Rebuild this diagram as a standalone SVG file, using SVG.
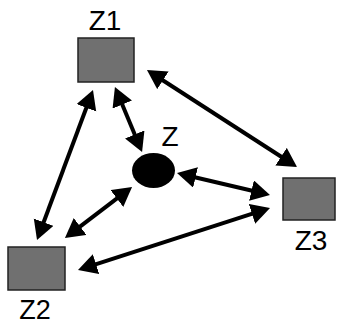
<svg xmlns="http://www.w3.org/2000/svg" width="337" height="325" viewBox="0 0 337 325">
<style>
.box{fill:#707070;stroke:#222;stroke-width:1.5}
.lbl{font-family:"Liberation Sans",Arial,sans-serif;font-size:28px;fill:#000;text-anchor:middle}
.conn line{stroke:#000;stroke-width:4;marker-start:url(#ah);marker-end:url(#ah)}
</style>
<defs>
<marker id="ah" markerUnits="userSpaceOnUse" markerWidth="21" markerHeight="23" refX="3" refY="10.5" orient="auto-start-reverse">
<path d="M0,0 L19,10.5 L0,21 z" fill="#000"/>
</marker>
</defs>
<rect width="337" height="325" fill="#fff"/>
<g id="connectors" class="conn">
<line x1="160.4" y1="78.7" x2="283.6" y2="158.3"/>
<line x1="121.1" y1="101.8" x2="135.9" y2="137.2"/>
<line x1="87.4" y1="105" x2="42.6" y2="225"/>
<line x1="192.6" y1="176.7" x2="254.4" y2="191.3"/>
<line x1="119.3" y1="196.7" x2="77.7" y2="228.3"/>
<line x1="93.2" y1="265.1" x2="254.8" y2="212.9"/>
</g>
<g id="Z1">
<rect class="box" x="78" y="38" width="56" height="44"/>
<text class="lbl" x="105" y="30">Z1</text>
</g>
<g id="Z">
<ellipse cx="153.5" cy="170.5" rx="21.5" ry="17.5" fill="#000"/>
<text class="lbl" x="170" y="146">Z</text>
</g>
<g id="Z3">
<rect class="box" x="283" y="178" width="52" height="42"/>
<text class="lbl" x="311" y="250">Z3</text>
</g>
<g id="Z2">
<rect class="box" x="8" y="247" width="57" height="43"/>
<text class="lbl" x="35" y="319" style="font-size:27px">Z2</text>
</g>
</svg>
